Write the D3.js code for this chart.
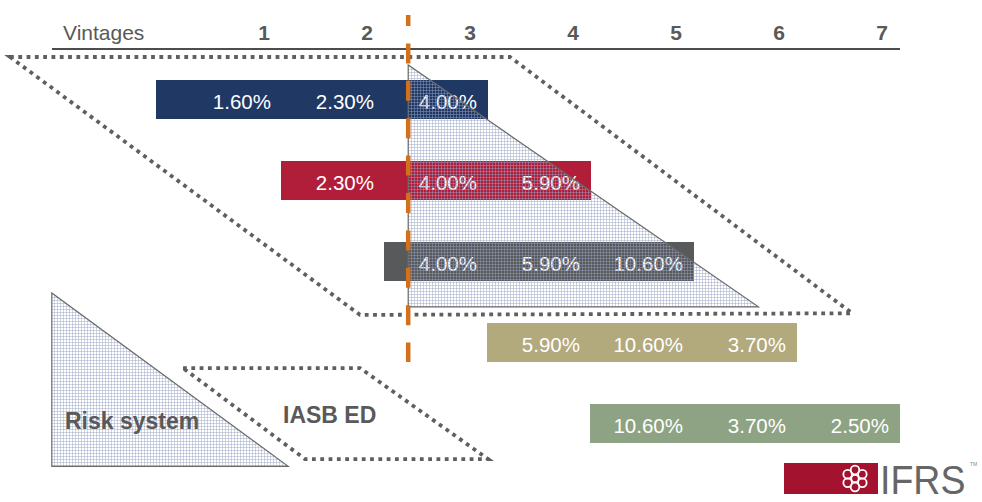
<!DOCTYPE html>
<html>
<head>
<meta charset="utf-8">
<script src="https://cdn.jsdelivr.net/npm/d3@7"></script>
<style>
  body { margin: 0; background: #fff; }
  svg { display: block; font-family: "Liberation Sans", Arial, sans-serif; }
</style>
</head>
<body>
<div id="chart"></div>
<script>
const width = 982;
const height = 502;

// data
const vintages = [1, 2, 3, 4, 5, 6, 7];
const rowStarts = [1, 2, 3, 4, 5];          // first vintage of each row
const rowValues = [
  ["1.60%", "2.30%", "4.00%"],
  ["2.30%", "4.00%", "5.90%"],
  ["4.00%", "5.90%", "10.60%"],
  ["5.90%", "10.60%", "3.70%"],
  ["10.60%", "3.70%", "2.50%"]
];
const rowColors = ["#1f3864", "#b01e3a", "#58595b", "#b2a97c", "#8ea383"];
const cutoffVintage = 2.4;

// annotation shapes, in [vintage, row] units
const riskTriangle = [[2.4, -0.185], [2.4, 2.8], [5.8, 2.8]];
const iasbShape = [[-1.466, -0.284], [3.388, -0.284], [6.71, 2.88], [1.932, 2.9]];
const legendTriangle = [[-1.06, 2.63], [-1.06, 4.77], [1.235, 4.77]];
const legendIasb = [[0.214, 3.556], [1.932, 3.556], [3.175, 4.68], [1.398, 4.68]];

const svg = d3.select("#chart").append("svg").attr("width", width).attr("height", height);

const x = d3.scaleLinear().domain([1, 7]).range([264, 882]);
const y = d3.scaleLinear().domain([0, 1]).range([80, 161]);   // row index -> bar top
const barH = 39;

// grid pattern for the "risk system" triangles
const defs = svg.append("defs");
defs.append("pattern")
  .attr("id", "grid")
  .attr("patternUnits", "userSpaceOnUse")
  .attr("width", 3).attr("height", 3)
  .append("path")
  .attr("d", "M0 0.5H3M0.5 0V3")
  .attr("stroke", "rgba(150,162,196,0.45)")
  .attr("stroke-width", 1)
  .attr("fill", "none");

// header
svg.append("text").attr("x", 63).attr("y", 40)
  .attr("font-size", 21).attr("fill", "#595959").text("Vintages");

svg.selectAll(".vint").data(vintages).enter().append("text")
  .attr("class", "vint")
  .attr("x", d => x(d)).attr("y", 40)
  .attr("text-anchor", "middle")
  .attr("font-size", 21).attr("font-weight", "bold").attr("fill", "#595959")
  .text(d => d);

svg.append("line")
  .attr("x1", 52).attr("x2", x(7) + 18)
  .attr("y1", 49).attr("y2", 49)
  .attr("stroke", "#111").attr("stroke-width", 1.5);

const pt = p => [x(p[0]), y(p[1])];
const closed = d3.line().curve(d3.curveLinearClosed);

// dotted IASB outline
svg.append("path")
  .attr("d", closed(iasbShape.map(pt)))
  .attr("fill", "none").attr("stroke", "#5f5f5f")
  .attr("stroke-width", 3.8).attr("stroke-dasharray", "3.8 4.5");

// bars
const rows = svg.selectAll(".row").data(rowStarts).enter().append("g").attr("class", "row");

rows.append("rect")
  .attr("x", (d, i) => x(d) - (i === 0 ? 108 : 86))
  .attr("y", (d, i) => y(i))
  .attr("width", (d, i) => x(d + 2) + 18 - (x(d) - (i === 0 ? 108 : 86)))
  .attr("height", barH)
  .attr("fill", (d, i) => rowColors[i]);

rows.each(function (start, i) {
  d3.select(this).selectAll("text").data(rowValues[i]).enter().append("text")
    .attr("x", (v, j) => x(start + j) + 7)
    .attr("y", y(i) + 29)
    .attr("text-anchor", "end")
    .attr("font-size", 20.5).attr("fill", "#fff")
    .text(v => v);
});

// risk system triangle over the bars
svg.append("path")
  .attr("d", closed(riskTriangle.map(pt)))
  .attr("fill", "url(#grid)")
  .attr("stroke", "#6a6a6a").attr("stroke-width", 1.2);

// cut-off line
svg.append("line")
  .attr("x1", x(cutoffVintage)).attr("x2", x(cutoffVintage))
  .attr("y1", 15).attr("y2", 362)
  .attr("stroke", "#d2701c").attr("stroke-width", 4.5)
  .attr("stroke-dasharray", "20 17.4")
  .attr("stroke-dashoffset", 9);

// legend
svg.append("path")
  .attr("d", closed(legendTriangle.map(pt)))
  .attr("fill", "url(#grid)")
  .attr("stroke", "#6a6a6a").attr("stroke-width", 1.2);

svg.append("path")
  .attr("d", closed(legendIasb.map(pt)))
  .attr("fill", "none").attr("stroke", "#5f5f5f")
  .attr("stroke-width", 3.8).attr("stroke-dasharray", "3.8 4.5");

svg.append("text").attr("x", 65).attr("y", 429)
  .attr("font-size", 23).attr("font-weight", "bold").attr("fill", "#595959")
  .text("Risk system");

svg.append("text").attr("x", 283).attr("y", 423)
  .attr("font-size", 23).attr("font-weight", "bold").attr("fill", "#595959")
  .text("IASB ED");

// IFRS logo
const logo = svg.append("g");
logo.append("rect").attr("x", 784).attr("y", 463).attr("width", 94).attr("height", 31).attr("fill", "#a3132f");
const fc = [855, 478.5];
d3.range(6).forEach(k => {
  const a = k * Math.PI / 3 + Math.PI / 6;
  logo.append("circle")
    .attr("cx", fc[0] + 8.5 * Math.cos(a)).attr("cy", fc[1] + 8.5 * Math.sin(a))
    .attr("r", 4.3).attr("fill", "none").attr("stroke", "#fff").attr("stroke-width", 1.8);
});
logo.append("circle").attr("cx", fc[0]).attr("cy", fc[1]).attr("r", 3.6)
  .attr("fill", "none").attr("stroke", "#fff").attr("stroke-width", 1.5);
logo.append("text")
  .attr("transform", "translate(880,494) scale(1,1.1)")
  .attr("font-size", 37.5).attr("fill", "#666")
  .text("IFRS");
logo.append("text").attr("x", 970).attr("y", 466)
  .attr("font-size", 5).attr("fill", "#888").text("TM");
</script>
</body>
</html>
